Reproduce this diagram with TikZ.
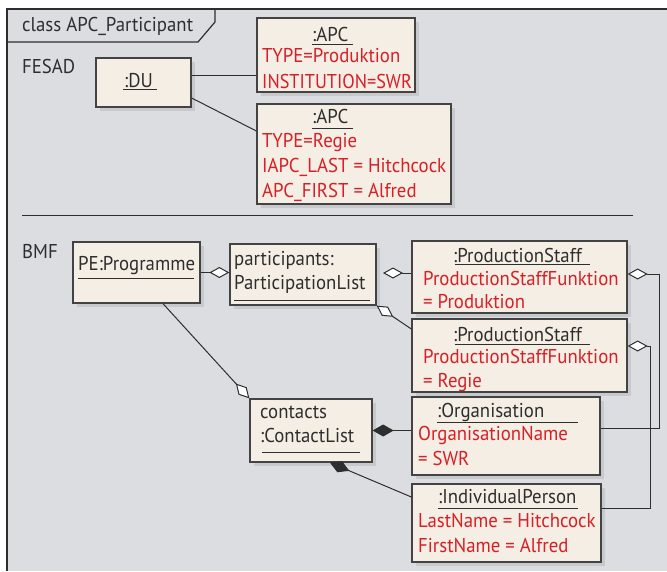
\documentclass[tikz,border=0pt]{standalone}
\usepackage{fontspec}
\setmainfont[FakeStretch=0.94]{PT Sans}
\usetikzlibrary{arrows.meta,shadows}
\definecolor{framebg}{HTML}{DCDDE0}
\definecolor{boxbg}{HTML}{F5EEE4}
\definecolor{attr}{HTML}{D71F26}
\definecolor{ink}{HTML}{2E2E2E}
\definecolor{shade}{HTML}{C8C9CC}
\tikzset{
  odia/.tip={Diamond[fill=white, length=20pt, width=11pt]},
  fdia/.tip={Diamond[fill=ink, length=21pt, width=12pt]}}
\begin{document}
\begin{tikzpicture}[x=1pt,y=-1pt,
  font=\fontsize{20}{24}\selectfont,
  box/.style={draw=ink!90, line width=1.3pt, fill=boxbg, inner sep=0pt,
    drop shadow={shadow xshift=3.5pt, shadow yshift=-3.5pt, fill=shade, opacity=1}},
  lbl/.style={anchor=base west, inner sep=0pt, text=ink},
  att/.style={lbl, text=attr},
  uline/.style={draw=ink, line width=1pt},
  conn/.style={draw=ink, line width=1pt}]
\useasboundingbox (0,0) rectangle (667,571);
\fill[white] (0,0) rectangle (667,571);
% diagram frame with its name tab
\fill[framebg] (7,9) rectangle (667,571);
\draw[ink, line width=1.6pt] (7,571) -- (7,9) -- (667,9);
\draw[ink, line width=1.2pt] (215,9) -- (215,22) -- (198,42) -- (7,42);
\node[lbl] (title) at (22,31) {class APC\_Participant};
% partition between the two systems
\draw[ink, line width=1pt] (22,215) -- (633,215);
\node[lbl] (fesad) at (22,73) {FESAD};
\node[lbl] (bmf) at (22,258) {BMF};

% ---------- FESAD objects ----------
\node[box, minimum width=95pt, minimum height=49pt] (du) at (143.5,82.5) {};
\node[box, minimum width=158pt, minimum height=74pt] (apc1) at (336,55) {};
\node[box, minimum width=194pt, minimum height=100pt] (apc2) at (354,154) {};

% ---------- BMF objects ----------
\node[box, minimum width=127pt, minimum height=61pt] (pe) at (136.5,272.5) {};
\node[box, minimum width=146pt, minimum height=61pt] (part) at (303,274.5) {};
\node[box, minimum width=215pt, minimum height=72pt] (ps1) at (519.5,277) {};
\node[box, minimum width=215pt, minimum height=73pt] (ps2) at (519.5,355.5) {};
\node[box, minimum width=122pt, minimum height=63pt] (cl) at (311,430.5) {};
\node[box, minimum width=188pt, minimum height=78pt] (org) at (506,436) {};
\node[box, minimum width=189pt, minimum height=78pt] (ip) at (506.5,523) {};

% ---------- connectors ----------
\draw[conn] ([yshift=7.5pt]du.east) -- ([yshift=-20pt]apc1.west);
\draw[conn] ([yshift=-15.5pt]du.east) -- ([yshift=23pt]apc2.west);
\draw[conn, -{odia}] (pe.east) -- (pe.east -| part.west);
\coordinate (partR) at (383,273);
\draw[conn, -{odia}] ([yshift=4pt]ps1.west) -- (partR);
\draw[conn, {odia}-] (part.south east) -- ([yshift=26.5pt]ps2.west);
\draw[conn, {odia}-] ([yshift=3pt]ps1.east) -- ++(32,0) |- ([yshift=8pt]org.east);
\draw[conn, {odia}-] ([yshift=9.5pt]ps2.east) -- ++(23,0) |- ([yshift=15pt]ip.east);
\draw[conn, -{odia}] ([xshift=26.5pt]pe.south) -- (cl.north west);
\draw[conn, {fdia}-] (cl.east) -- (cl.east -| org.west);
\draw[conn, {fdia}-] ([xshift=19pt]cl.south) -- ([yshift=26pt]ip.west);

% ---------- texts ----------
\node[lbl] (duT) at (124,87.5) {:DU};
\draw[uline] (123,89.5) -- (157,89.5);

\node[lbl] (apc1T) at (312,41.5) {:APC};
\draw[uline] (312,44) -- (353,44);
\node[att] (apc1a) at (262,62.5) {TYPE=Produktion};
\node[att] (apc1b) at (262,88) {\scalebox{0.97}[1]{INSTITUTION=SWR}};

\node[lbl] (apc2T) at (312,123) {:APC};
\draw[uline] (312,128) -- (353,128);
\node[att] (apc2a) at (262,147) {TYPE=Regie};
\node[att] (apc2b) at (262,172) {IAPC\_LAST = Hitchcock};
\node[att] (apc2c) at (262,197) {APC\_FIRST = Alfred};

\node[lbl] (peT) at (78,270) {PE:Programme};
\draw[uline] (78,278) -- (194,278);

\node[lbl] (partT1) at (234,265) {participants:};
\node[lbl] (partT2) at (234,289) {ParticipationList};
\draw[uline] (234,300) -- (370,300);

\node[lbl] (ps1T) at (453,262) {:ProductionStaff};
\draw[uline] (455,264.5) -- (590,264.5);
\node[att] (ps1a) at (423,285) {ProductionStaffFunktion};
\node[att] (ps1b) at (423,308) {= Produktion};

\node[lbl] (ps2T) at (453,341) {:ProductionStaff};
\draw[uline] (455,344) -- (590,344);
\node[att] (ps2a) at (423,363) {ProductionStaffFunktion};
\node[att] (ps2b) at (423,387) {= Regie};

\node[lbl] (clT1) at (260,418) {contacts};
\node[lbl] (clT2) at (260,442) {:ContactList};
\draw[uline] (262,452) -- (360,452);

\node[lbl] (orgT) at (437,417) {:Organisation};
\draw[uline] (437,422) -- (578,422);
\node[att] (orga) at (418,440) {OrganisationName};
\node[att] (orgb) at (418,465) {= SWR};

\node[lbl] (ipT) at (438,503) {:IndividualPerson};
\draw[uline] (438,508) -- (578,508);
\node[att] (ipa) at (418,527) {LastName = Hitchcock};
\node[att] (ipb) at (418,552) {FirstName = Alfred};
\end{tikzpicture}
\end{document}
